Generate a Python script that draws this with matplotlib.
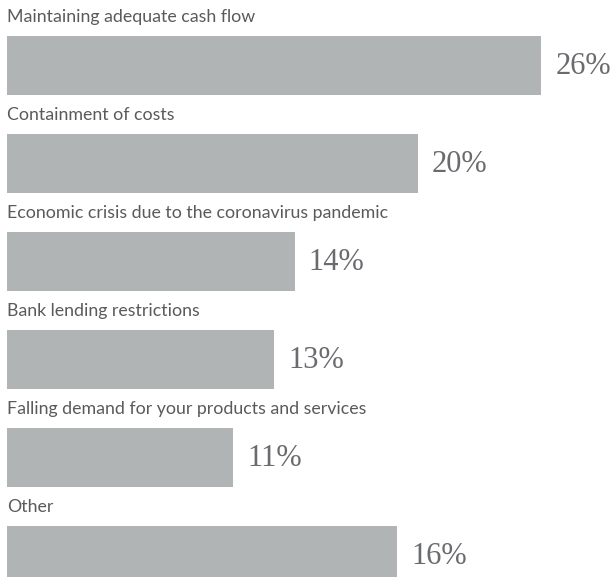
import matplotlib
matplotlib.use("Agg")
import matplotlib.pyplot as plt

categories = [
    "Maintaining adequate cash flow",
    "Containment of costs",
    "Economic crisis due to the coronavirus pandemic",
    "Bank lending restrictions",
    "Falling demand for your products and services",
    "Other",
]
value_labels = ["26%", "20%", "14%", "13%", "11%", "16%"]
# bar lengths as drawn in the picture (the "Other" bar is drawn longer than 16)
bar_lengths = [26, 20, 14, 13, 11, 19]

bar_color = "#b1b4b5"
value_color = "#6a6b6e"
label_color = "#5a5a5a"

fig = plt.figure(figsize=(6.13, 5.77), dpi=100)
ax = fig.add_axes([0, 0, 1, 1])

px = 20.55  # pixels per percent
ax.set_xlim(-7 / px, (613 - 7) / px)
ax.set_ylim((577 - 65.5) / 98, -65.5 / 98)

ypos = list(range(len(categories)))
ax.barh(ypos, bar_lengths, height=0.60, color=bar_color, left=0)

for y, cat, lab, w in zip(ypos, categories, value_labels, bar_lengths):
    ax.text(0, y - 0.49, cat, ha="left", va="center", fontsize=12.8,
            color=label_color, family="Lato")
    ax.text(w + 14 / px, y + 0.01, lab, ha="left", va="center", fontsize=22,
            color=value_color, family="Liberation Serif")

ax.axis("off")
fig.savefig("out.png", dpi=100)
